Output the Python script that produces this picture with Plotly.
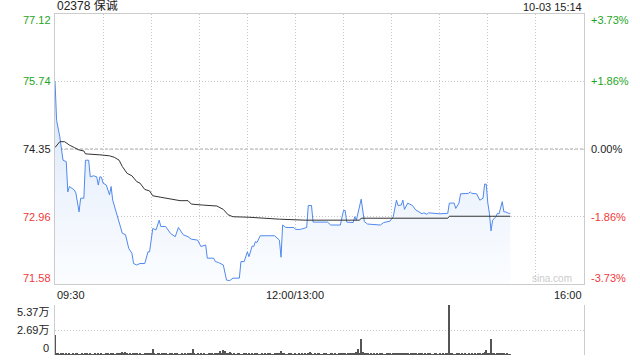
import plotly.graph_objects as go

# ---------------- data ----------------
title_text = "02378 保诚"
time_text = "10-03 15:14"
watermark = "sina.com"
prev_close = 74.35

price_ticks = [71.58, 72.96, 74.35, 75.74, 77.12]
price_tick_labels = ["71.58", "72.96", "74.35", "75.74", "77.12"]
pct_tick_labels = ["-3.73%", "-1.86%", "0.00%", "+1.86%", "+3.73%"]

x_tick_pos = [0, 150, 330]
x_tick_labels = ["09:30", "12:00/13:00", "16:00"]
x_grid = [0, 30, 60, 90, 120, 150, 180, 210, 240, 270, 300, 330]

vol_ticks = [0, 26850, 53700]
vol_tick_labels = ["0", "2.69万", "5.37万"]

# minutes since 09:30 (lunch break removed) and last price
price_min = [0, 1, 3, 5, 7, 8, 9, 12, 13, 15, 16, 18, 19, 21, 22, 24, 26, 27, 28, 29,
             30, 32, 34, 35, 36, 39, 42, 44, 46, 48, 49, 51, 53, 56, 58, 59, 61, 63, 65, 66,
             69, 72, 75, 77, 79, 80, 83, 85, 89, 91, 94, 95, 99, 100, 102, 105, 107, 109, 111, 115,
             116, 118, 120, 121, 123, 124, 125, 126, 128, 137, 140, 141, 142, 144, 149, 150, 153, 155, 157, 158,
             160, 161, 170, 172, 178, 180, 181, 182, 186, 187, 188, 191, 192, 193, 195, 203, 205, 207, 209, 211,
             213, 214, 216, 217, 218, 220, 223, 225, 227, 229, 230, 232, 233, 238, 240, 245, 246, 249, 250, 252,
             253, 258, 259, 260, 263, 265, 267, 268, 269, 270, 271, 272, 273, 275, 276, 277, 279, 280, 281, 283,
             284]
price_val = [75.74, 74.94, 74.60, 74.12, 74.09, 73.47, 73.58, 73.51, 73.45, 73.06, 73.34, 73.34, 74.12, 74.12, 73.78, 73.80, 73.78, 73.61, 73.78, 73.77,
             73.65, 73.61, 73.41, 73.58, 73.30, 72.96, 72.62, 72.59, 72.31, 72.21, 72.00, 71.97, 72.00, 72.00, 72.24, 72.24, 72.72, 72.69, 72.89, 72.76,
             72.76, 72.62, 72.55, 72.74, 72.64, 72.59, 72.55, 72.50, 72.48, 72.35, 72.38, 72.11, 72.11, 72.04, 72.02, 71.97, 71.66, 71.65, 71.70, 71.70,
             72.04, 72.04, 72.24, 72.14, 72.36, 72.35, 72.45, 72.43, 72.57, 72.57, 72.48, 72.13, 72.79, 72.74, 72.74, 72.70, 72.70, 72.72, 72.74, 73.19,
             73.19, 72.85, 72.85, 72.79, 72.79, 73.09, 73.09, 72.85, 72.84, 72.96, 72.89, 73.32, 73.10, 72.86, 72.81, 72.79, 72.84, 72.85, 72.87, 72.96,
             73.30, 73.19, 73.20, 73.30, 73.11, 73.24, 73.19, 73.10, 73.06, 73.02, 73.04, 73.01, 73.04, 73.03, 73.02, 73.03, 73.24, 73.24, 73.13, 73.24,
             73.43, 73.44, 73.47, 73.44, 73.43, 73.30, 73.34, 73.63, 73.63, 73.24, 73.03, 72.67, 72.89, 72.96, 73.03, 73.02, 73.27, 73.06, 73.06, 73.03,
             73.03]

# average price line
avg_min = [0, 3, 6, 9, 12, 15, 18, 19, 28, 34, 37, 40, 42, 45, 48, 51, 53, 56, 59, 61,
           66, 72, 78, 83, 85, 92, 101, 105, 108, 111, 121, 140, 156, 190, 191, 245, 246, 284]
avg_val = [74.38, 74.50, 74.50, 74.43, 74.38, 74.33, 74.31, 74.25, 74.23, 74.21, 74.18, 74.12, 73.99, 73.85, 73.80, 73.68, 73.65, 73.52, 73.49, 73.39,
           73.36, 73.33, 73.29, 73.29, 73.22, 73.20, 73.18, 73.11, 73.00, 72.96, 72.95, 72.91, 72.89, 72.89, 72.93, 72.93, 72.97, 72.97]

# per-minute volume (shares)
volume = [
    21500, 1800, 1200, 900, 1500, 1100, 800, 1300, 1000, 1600, 900, 1200, 700, 1100, 1400, 800, 1000, 1200, 900, 1500,
    1100, 800, 1300, 900, 1000, 1200, 700, 1100, 900, 1400, 1000, 800, 1200, 1500, 900, 1100, 1300, 800, 1000, 1200,
    1400, 2500, 3500, 1200, 3000, 1800, 1000, 2200, 900, 1300, 1100, 1500, 800, 1200, 1000, 900, 1400, 1100, 1600, 1200,
    1500, 6000, 1300, 1000, 2000, 1200, 900, 1800, 1100, 1400, 1000, 800, 1200, 1500, 900, 1100, 1300, 1000, 800, 1200,
    1000, 1300, 900, 1500, 1100, 1800, 6000, 1200, 900, 1400, 1000, 1100, 800, 1300, 1000, 900, 1200, 1500, 1100, 1000,
    1400, 1200, 2500, 4500, 1800, 5000, 4000, 2000, 1500, 3500, 1300, 1000, 1200, 900, 1100, 1400, 1000, 800, 1200, 1100,
    900, 1300, 1000, 1200, 800, 1100, 1400, 1000, 900, 1200, 1000, 1300, 800, 1100, 1200, 900, 1000, 1400, 1100, 1300,
    1500, 4000, 1800, 1200, 1000, 900, 1100, 1300, 800, 1000, 1200, 900, 1100, 1000, 1400, 800, 1200, 1000, 1500, 3000,
    1200, 1000, 1400, 900, 1100, 1300, 1000, 800, 1200, 1100, 900, 1000, 1300, 1200, 1000, 1500, 900, 1100, 1400, 1200,
    2000, 1300, 1000, 1200, 1800, 1100, 1500, 2200, 3000, 6500, 2500, 17200, 3500, 2400, 1500, 1200, 1000, 1100, 900, 1300,
    1000, 1200, 800, 1100, 1300, 1000, 900, 1200, 1400, 1100, 1000, 1500, 2500, 1200, 1800, 1300, 2200, 1100, 1600, 1200,
    2000, 1000, 1800, 1200, 1100, 2200, 1000, 1900, 1300, 1200, 900, 1100, 1000, 1200, 1300, 1000, 900, 1100, 1200, 1000,
    1100, 900, 1300, 1000, 1200, 1100, 53700, 1500, 1200, 1000, 900, 1300, 1100, 1000, 1200, 900, 1100, 1000, 1300, 900,
    1200, 1000, 1100, 900, 1300, 1200, 1000, 1800, 3500, 5500, 2000, 1500, 17200, 1800, 1200, 1000, 1500, 1100, 1300, 2500,
    1200, 1000, 1100, 900, 1000,
]
vol_min = list(range(len(volume)))

# ---------------- styles ----------------
GREEN = "#1ea51e"
RED = "#f03a3a"
DARK = "#222222"
FONT = "Liberation Sans, Arial, Noto Sans CJK SC, sans-serif"
GRID = "#c8c8c8"
GRID_DASH = "1px,2px"
BORDER = "#cccccc"

W, H = 640, 360
ML, MR, MT, MB = 55, 56, 14, 5
plot_h = H - MT - MB
main_bottom = (H - MB - 284) / plot_h
vol_top = (H - MB - 305) / plot_h

fig = go.Figure()

fig.add_trace(go.Scatter(
    x=price_min, y=price_val, mode="lines",
    line=dict(color="#5089ee", width=1),
    fill="tozeroy",
    fillgradient=dict(type="vertical", start=71.58, stop=75.74,
                      colorscale=[[0, "#fbfdff"], [0.45, "#eef4fd"], [1, "#d5e3fa"]]),
    xaxis="x", yaxis="y", hoverinfo="skip", showlegend=False,
))
fig.add_trace(go.Scatter(
    x=avg_min, y=avg_val, mode="lines",
    line=dict(color="#333333", width=1),
    xaxis="x", yaxis="y", hoverinfo="skip", showlegend=False,
))
fig.add_trace(go.Bar(
    x=vol_min, y=volume, width=0.7,
    marker=dict(color="#555555", line=dict(width=0)),
    xaxis="x2", yaxis="y2", hoverinfo="skip", showlegend=False,
))

# prev close dashed line
fig.add_shape(type="line", xref="x", yref="y", x0=0, x1=330, y0=prev_close, y1=prev_close,
              line=dict(color="#a8a8a8", width=1, dash="3px,2px"), layer="below")

annotations = []


def tick_color(v):
    if v > prev_close + 1e-6:
        return GREEN
    if v < prev_close - 1e-6:
        return RED
    return DARK


n = len(price_ticks)
for i, (v, lab, pl) in enumerate(zip(price_ticks, price_tick_labels, pct_tick_labels)):
    ys = 0
    if i == n - 1:
        ys = -6
    elif i == 0:
        ys = 6
    c = tick_color(v)
    annotations.append(dict(x=0, xref="paper", y=v, yref="y", text=lab, showarrow=False,
                            xanchor="right", yanchor="middle", xshift=-2, yshift=ys,
                            font=dict(size=11, color=c, family=FONT)))
    annotations.append(dict(x=1, xref="paper", y=v, yref="y", text=pl, showarrow=False,
                            xanchor="left", yanchor="middle", xshift=5, yshift=ys,
                            font=dict(size=11, color=c, family=FONT)))

anchors = ["left", "center", "right"]
for pos, lab, anc in zip(x_tick_pos, x_tick_labels, anchors):
    annotations.append(dict(x=pos, xref="x", y=main_bottom, yref="paper", text=lab, showarrow=False,
                            xanchor=anc, yanchor="top", yshift=-3,
                            font=dict(size=11, color=DARK, family=FONT)))

vshifts = [7, 0, -7]
for v, lab, ys in zip(vol_ticks, vol_tick_labels, vshifts):
    annotations.append(dict(x=0, xref="paper", y=v, yref="y2", text=lab, showarrow=False,
                            xanchor="right", yanchor="middle", xshift=-4, yshift=ys,
                            font=dict(size=11, color=DARK, family=FONT)))

annotations.append(dict(x=0, xref="paper", y=1, yref="paper", text=title_text, showarrow=False,
                        xanchor="left", yanchor="bottom", yshift=-1,
                        font=dict(size=12, color=DARK, family=FONT)))
annotations.append(dict(x=1, xref="paper", y=1, yref="paper", text=time_text, showarrow=False,
                        xanchor="right", yanchor="bottom", yshift=-1,
                        font=dict(size=11, color=DARK, family=FONT)))
annotations.append(dict(x=1, xref="paper", y=main_bottom, yref="paper", text=watermark, showarrow=False,
                        xanchor="right", yanchor="bottom", xshift=-10, yshift=-2,
                        font=dict(size=10, color="#cccccc", family=FONT)))

fig.update_layout(
    width=W, height=H,
    margin=dict(l=ML, r=MR, t=MT, b=MB),
    paper_bgcolor="white", plot_bgcolor="white",
    showlegend=False, bargap=0,
    annotations=annotations,
    xaxis=dict(domain=[0, 1], range=[0, 330], tickvals=x_grid, showticklabels=False, ticks="",
               showgrid=True, gridcolor=GRID, griddash=GRID_DASH, gridwidth=1,
               showline=True, linecolor=BORDER, linewidth=1, mirror=True, zeroline=False,
               anchor="y", fixedrange=True),
    yaxis=dict(domain=[main_bottom, 1], range=[71.58, 77.12], tickvals=price_ticks, showticklabels=False,
               ticks="", showgrid=True, gridcolor=GRID, griddash=GRID_DASH, gridwidth=1,
               showline=True, linecolor=BORDER, linewidth=1, mirror=True, zeroline=False,
               anchor="x", fixedrange=True),
    xaxis2=dict(domain=[0, 1], range=[0, 330], showticklabels=False, ticks="", showgrid=False,
                showline=False, zeroline=False, anchor="y2", fixedrange=True),
    yaxis2=dict(domain=[0, vol_top], range=[0, 53700], tickvals=vol_ticks[1:], showticklabels=False,
                ticks="", showgrid=True, gridcolor=GRID, griddash=GRID_DASH, gridwidth=1,
                showline=True, linecolor=BORDER, linewidth=1, mirror=True, zeroline=False,
                anchor="x2", fixedrange=True),
)

fig.write_html("out.html", config={"displayModeBar": False})
